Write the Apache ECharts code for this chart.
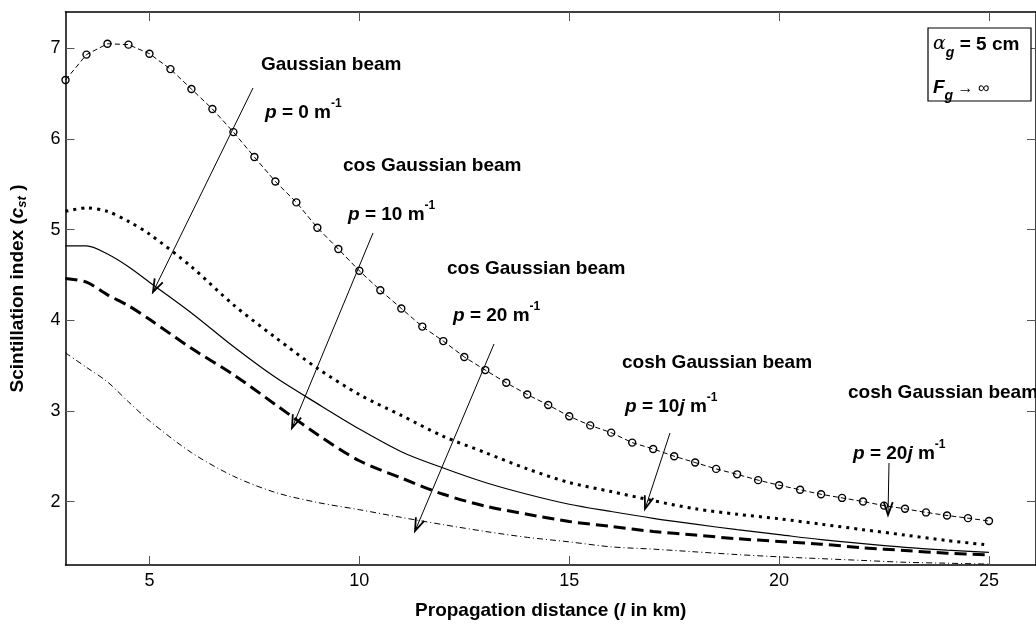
<!DOCTYPE html>
<html>
<head>
<meta charset="utf-8">
<title>Scintillation index</title>
<script src="https://cdn.jsdelivr.net/npm/echarts@6/dist/echarts.min.js"></script>
<style>
    html, body { margin: 0; padding: 0; background: #fff; }
    #chart { width: 1036px; height: 625px; }
</style>
</head>
<body>
<div id="chart"></div>
<script>
// distances (km) for the marked curve, one marker every 0.5 km
var distMarked = [3, 3.5, 4, 4.5, 5, 5.5, 6, 6.5, 7, 7.5, 8, 8.5, 9, 9.5, 10, 10.5, 11, 11.5, 12, 12.5,
    13, 13.5, 14, 14.5, 15, 15.5, 16, 16.5, 17, 17.5, 18, 18.5, 19, 19.5, 20, 20.5, 21, 21.5, 22, 22.5,
    23, 23.5, 24, 24.5, 25];
// cosh Gaussian beam, p = 20j
var coshP20j = [6.65, 6.93, 7.05, 7.04, 6.94, 6.77, 6.55, 6.33, 6.075, 5.80, 5.53, 5.30, 5.02, 4.785, 4.545, 4.33, 4.13, 3.93, 3.77, 3.595,
    3.45, 3.31, 3.18, 3.065, 2.94, 2.84, 2.76, 2.65, 2.58, 2.50, 2.43, 2.36, 2.30, 2.236, 2.18, 2.13, 2.08, 2.04, 2.00, 1.955,
    1.92, 1.88, 1.846, 1.817, 1.785];

// distances (km) for the other curves
var distLine = [3, 3.5, 4, 4.5, 5, 6, 7, 8, 9, 10, 11, 12, 13, 14, 15, 16, 17, 18, 19, 20, 21, 22, 23, 24, 25];
// cosh Gaussian beam, p = 10j (dotted)
var coshP10j = [5.20, 5.24, 5.20, 5.09, 4.95, 4.59, 4.17, 3.81, 3.47, 3.18, 2.95, 2.72, 2.54, 2.36, 2.21, 2.11, 2.01, 1.92, 1.86, 1.81, 1.75, 1.69, 1.63, 1.57, 1.52];
// Gaussian beam, p = 0 (solid)
var gaussP0 = [4.82, 4.82, 4.73, 4.59, 4.42, 4.08, 3.71, 3.37, 3.08, 2.80, 2.55, 2.37, 2.21, 2.08, 1.97, 1.89, 1.815, 1.75, 1.69, 1.635, 1.58, 1.535, 1.495, 1.465, 1.44];
// cos Gaussian beam, p = 10 (thick dashed)
var cosP10 = [4.46, 4.42, 4.28, 4.16, 4.01, 3.69, 3.40, 3.07, 2.74, 2.45, 2.26, 2.08, 1.95, 1.86, 1.78, 1.725, 1.67, 1.63, 1.59, 1.56, 1.53, 1.49, 1.46, 1.43, 1.41];
// cos Gaussian beam, p = 20 (dash-dot)
var cosP20 = [3.64, 3.48, 3.32, 3.10, 2.89, 2.54, 2.28, 2.10, 1.99, 1.91, 1.825, 1.745, 1.67, 1.605, 1.555, 1.50, 1.475, 1.445, 1.415, 1.39, 1.37, 1.35, 1.33, 1.32, 1.31];

var xTicks = [5, 10, 15, 20, 25];
var yTicks = [2, 3, 4, 5, 6, 7];

function pairs(xs, ys) {
    return xs.map(function (x, i) { return [x, ys[i]]; });
}

var FONT = '"Liberation Sans", Arial, Helvetica, sans-serif';
var richStyles = {
    b: { fontFamily: FONT, fontWeight: 'bold', fontSize: 19, color: '#000', lineHeight: 24, verticalAlign: 'bottom' },
    i: { fontFamily: FONT, fontWeight: 'bold', fontStyle: 'italic', fontSize: 19, color: '#000', lineHeight: 24, verticalAlign: 'bottom' },
    sup: { fontFamily: FONT, fontWeight: 'bold', fontSize: 12, color: '#000', lineHeight: 24, verticalAlign: 'top' },
    sub: { fontFamily: FONT, fontWeight: 'bold', fontStyle: 'italic', fontSize: 14, color: '#000', lineHeight: 14, verticalAlign: 'bottom', padding: [0, 0, -6, 0] },
    al: { fontFamily: '"DejaVu Serif", serif', fontStyle: 'italic', fontSize: 19, color: '#000', lineHeight: 24, verticalAlign: 'bottom' },
    n: { fontFamily: FONT, fontSize: 16, color: '#000', lineHeight: 24, verticalAlign: 'bottom' }
};

// annotation texts (pixel positions)
var notes = [
    [261, 62, '{b|Gaussian beam}'],
    [265, 110, '{i|p}{b| = 0 m}{sup|-1}'],
    [343, 163, '{b|cos Gaussian beam}'],
    [348, 212, '{i|p}{b| = 10 m}{sup|-1}'],
    [447, 266, '{b|cos Gaussian beam}'],
    [453, 313, '{i|p}{b| = 20 m}{sup|-1}'],
    [622, 360, '{b|cosh Gaussian beam}'],
    [625, 404, '{i|p}{b| = 10}{i|j}{b| m}{sup|-1}'],
    [848, 390, '{b|cosh Gaussian beam}'],
    [853, 451, '{i|p}{b| = 20}{i|j}{b| m}{sup|-1}'],
    [933, 42, '{al|α}{sub|g}{b| = 5 cm}'],
    [933, 85, '{i|F}{sub|g}{n| → ∞}']
];
// annotation arrows: start x, start y, tip x, tip y
var arrows = [
    [253, 88, 153, 292],
    [373, 233, 292, 428],
    [494, 344, 415, 531],
    [670, 433, 645, 509],
    [889, 463, 888, 515]
];

var graphics = [];
notes.forEach(function (n) {
    graphics.push({
        type: 'text',
        x: n[0],
        y: n[1],
        z: 10,
        style: {
            text: n[2],
            rich: richStyles,
            textAlign: 'left',
            textVerticalAlign: 'middle'
        }
    });
});
arrows.forEach(function (a) {
    var dx = a[2] - a[0], dy = a[3] - a[1];
    var len = Math.sqrt(dx * dx + dy * dy);
    var ux = dx / len, uy = dy / len;
    var hl = 13, hw = 4.5;
    var bx = a[2] - ux * hl, by = a[3] - uy * hl;
    graphics.push({
        type: 'line', z: 10,
        shape: { x1: a[0], y1: a[1], x2: a[2], y2: a[3] },
        style: { stroke: '#000', lineWidth: 1 }
    });
    graphics.push({
        type: 'polyline', z: 10,
        shape: { points: [[bx - uy * hw, by + ux * hw], [a[2], a[3]], [bx + uy * hw, by - ux * hw]] },
        style: { stroke: '#000', lineWidth: 1.8, fill: null }
    });
});
// parameter box
graphics.push({
    type: 'rect', z: 9,
    shape: { x: 928, y: 28, width: 103, height: 73 },
    style: { stroke: '#000', lineWidth: 1.2, fill: '#fff' }
});

var chart = echarts.init(document.getElementById('chart'), null, { renderer: 'canvas' });

var axisCommon = {
    type: 'value',
    axisLine: { show: true, lineStyle: { color: '#000', width: 1.5 } },
    axisTick: { show: true, inside: true, length: 9, lineStyle: { color: '#555', width: 1 } },
    splitLine: { show: false }
};

var option = {
    animation: false,
    backgroundColor: '#fff',
    grid: { left: 59, top: 12, width: 980, height: 567, containLabel: false },
    xAxis: [
        Object.assign({}, axisCommon, {
            position: 'bottom', min: 3, max: 26.12,
            axisTick: Object.assign({}, axisCommon.axisTick, { customValues: xTicks }),
            axisLabel: { customValues: xTicks, margin: 7, color: '#000', fontSize: 18, fontFamily: FONT },
            name: 'Propagation distance ({it|l} in km)',
            nameLocation: 'middle',
            nameGap: 36,
            nameTextStyle: {
                color: '#000', fontWeight: 'bold', fontSize: 19, fontFamily: FONT,
                rich: { it: { fontStyle: 'italic', fontWeight: 'bold', fontSize: 19, fontFamily: FONT, color: '#000' } }
            }
        }),
        Object.assign({}, axisCommon, {
            position: 'top', min: 3, max: 26.12,
            axisTick: Object.assign({}, axisCommon.axisTick, { customValues: xTicks }),
            axisLabel: { show: false }
        })
    ],
    yAxis: [
        Object.assign({}, axisCommon, {
            position: 'left', min: 1.3, max: 7.4,
            axisTick: Object.assign({}, axisCommon.axisTick, { customValues: yTicks }),
            axisLabel: { customValues: yTicks, margin: 5, color: '#000', fontSize: 18, fontFamily: FONT },
            name: 'Scintillation index ({it|c}{sub|st} )',
            nameLocation: 'middle',
            nameGap: 37,
            nameTextStyle: {
                color: '#000', fontWeight: 'bold', fontSize: 19, fontFamily: FONT,
                rich: {
                    it: { fontStyle: 'italic', fontWeight: 'bold', fontSize: 19, fontFamily: FONT, color: '#000' },
                    sub: { fontStyle: 'italic', fontWeight: 'bold', fontSize: 13, fontFamily: FONT, color: '#000', padding: [9, 0, 0, 0] }
                }
            }
        }),
        Object.assign({}, axisCommon, {
            position: 'right', min: 1.3, max: 7.4,
            axisTick: Object.assign({}, axisCommon.axisTick, { customValues: yTicks }),
            axisLabel: { show: false }
        })
    ],
    series: [
        {
            name: 'cosh Gaussian beam p = 20j',
            type: 'line',
            data: pairs(distMarked, coshP20j),
            symbol: 'circle',
            symbolSize: 7,
            itemStyle: { color: 'rgba(0,0,0,0)', borderColor: '#000', borderWidth: 1.4 },
            lineStyle: { color: '#000', width: 1, type: [5, 3] },
            z: 3
        },
        {
            name: 'cosh Gaussian beam p = 10j',
            type: 'line',
            data: pairs(distLine, coshP10j),
            showSymbol: false,
            smooth: 0.3,
            lineStyle: { color: '#000', width: 3, type: [3, 5], cap: 'butt' }
        },
        {
            name: 'Gaussian beam p = 0',
            type: 'line',
            data: pairs(distLine, gaussP0),
            showSymbol: false,
            smooth: 0.3,
            lineStyle: { color: '#000', width: 1.2 }
        },
        {
            name: 'cos Gaussian beam p = 10',
            type: 'line',
            data: pairs(distLine, cosP10),
            showSymbol: false,
            smooth: 0.3,
            lineStyle: { color: '#000', width: 3, type: [12, 6], cap: 'butt' }
        },
        {
            name: 'cos Gaussian beam p = 20',
            type: 'line',
            data: pairs(distLine, cosP20),
            showSymbol: false,
            smooth: 0.3,
            lineStyle: { color: '#000', width: 1, type: [6, 3, 1, 3] }
        }
    ],
    graphic: graphics
};

chart.setOption(option);
</script>
</body>
</html>
